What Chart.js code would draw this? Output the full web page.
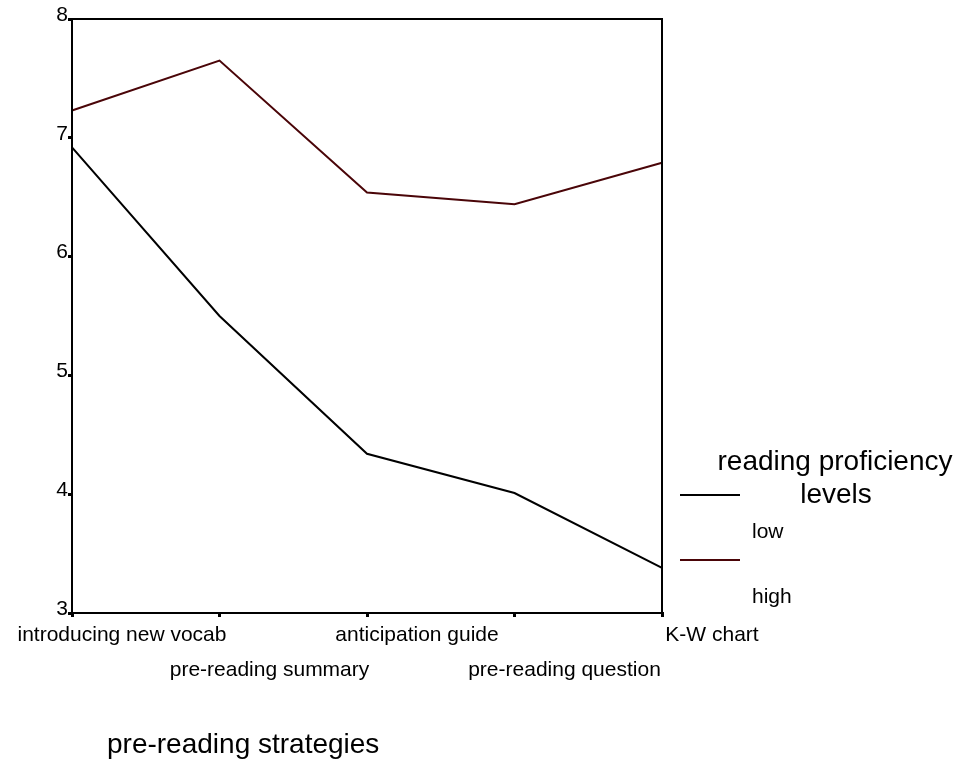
<!DOCTYPE html>
<html>
<head>
<meta charset="utf-8">
<script src="https://cdn.jsdelivr.net/npm/chart.js@4/dist/chart.umd.min.js"></script>
<style>
  html, body { margin: 0; padding: 0; background: #fff; }
  #wrap { width: 962px; height: 765px; }
</style>
</head>
<body>
<div id="wrap"><canvas id="chart"></canvas></div>
<script>
const strategies = ["introducing new vocab", "pre-reading summary", "anticipation guide", "pre-reading question", "K-W chart"];
const lowValues = [6.92, 5.50, 4.34, 4.01, 3.38];
const highValues = [7.23, 7.65, 6.54, 6.44, 6.79];
const seriesNames = ["low", "high"];
const yTicks = [3, 4, 5, 6, 7, 8];

const FONT = "'Liberation Sans', Arial, sans-serif";

// frame + legend + axis title drawn on top
const decorations = {
  id: "decorations",
  afterDraw(chart) {
    const { ctx, chartArea: a } = chart;
    ctx.save();
    ctx.strokeStyle = "#000";
    ctx.lineWidth = 2;
    ctx.strokeRect(a.left, a.top, a.right - a.left, a.bottom - a.top);

    ctx.fillStyle = "#000";
    ctx.textBaseline = "middle";
    ctx.textAlign = "center";
    ctx.font = "28px " + FONT;
    ctx.fillText("reading proficiency", 835, 462);
    ctx.fillText("levels", 836, 495);

    const colors = chart.data.datasets.map(d => d.borderColor);
    const rows = [{ line: 495, text: 532 }, { line: 560, text: 597 }];
    ctx.textAlign = "left";
    ctx.font = "21px " + FONT;
    rows.forEach((r, i) => {
      ctx.strokeStyle = colors[i];
      ctx.lineWidth = 2;
      ctx.beginPath();
      ctx.moveTo(680, r.line);
      ctx.lineTo(740, r.line);
      ctx.stroke();
      ctx.fillText(seriesNames[i], 752, r.text);
    });

    ctx.font = "28px " + FONT;
    ctx.fillText("pre-reading strategies", 107, 745);
    ctx.restore();
  }
};

new Chart(document.getElementById("chart"), {
  type: "line",
  data: {
    labels: strategies,
    datasets: [
      { label: seriesNames[0], data: lowValues, borderColor: "#000000", borderWidth: 2, pointRadius: 0, tension: 0 },
      { label: seriesNames[1], data: highValues, borderColor: "#4a0508", borderWidth: 2, pointRadius: 0, tension: 0 }
    ]
  },
  options: {
    responsive: true,
    maintainAspectRatio: false,
    animation: false,
    layout: { padding: { top: 19, right: 300, left: 0, bottom: 0 } },
    plugins: { legend: { display: false }, tooltip: { enabled: false } },
    scales: {
      x: {
        offset: false,
        grid: { display: true, drawOnChartArea: false, drawTicks: true, tickLength: 4, color: "#000", lineWidth: 3 },
        border: { display: true, color: "#000", width: 2 },
        ticks: {
          autoSkip: false, maxRotation: 0, minRotation: 0, padding: 0, labelOffset: 50, color: "#000",
          font: { family: FONT, size: 21, lineHeight: 1.7 },
          callback: (v, i) => i % 2 ? ["", strategies[i]] : strategies[i]
        },
        afterFit: s => { s.height = 152; s.paddingLeft = 0; s.paddingRight = 0; }
      },
      y: {
        min: 3, max: 8,
        afterBuildTicks: s => { s.ticks = yTicks.map(v => ({ value: v })); },
        grid: { display: true, drawOnChartArea: false, drawTicks: true, tickLength: 4, color: "#000", lineWidth: 3 },
        border: { display: true, color: "#000", width: 2 },
        ticks: { padding: 0, labelOffset: -4, color: "#000", font: { family: FONT, size: 21 } },
        afterFit: s => { s.width = 72; s.paddingTop = 0; s.paddingBottom = 0; }
      }
    }
  },
  plugins: [decorations]
});
</script>
</body>
</html>
